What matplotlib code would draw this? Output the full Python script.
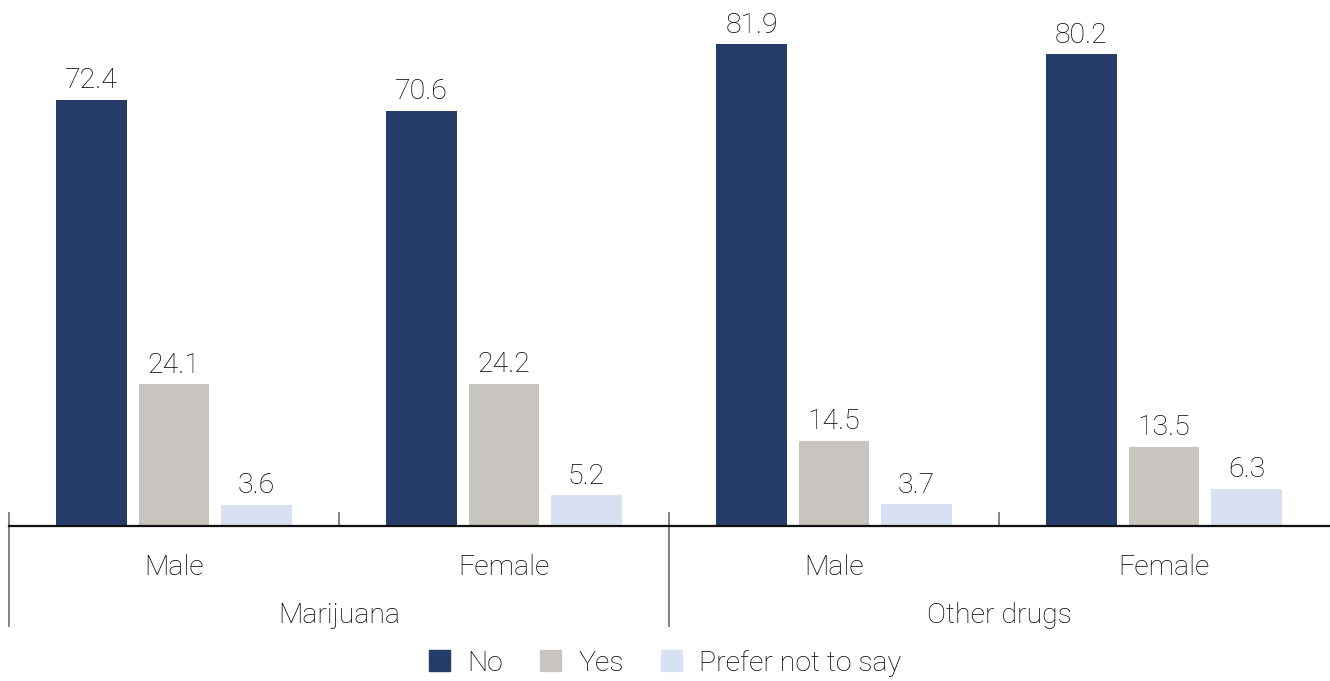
import matplotlib

matplotlib.use("Agg")

import matplotlib.pyplot as plt
from matplotlib.patches import Patch
from matplotlib.transforms import blended_transform_factory

plt.rcParams["font.family"] = ["Roboto", "DejaVu Sans"]

SUBGROUPS = ["Male", "Female", "Male", "Female"]
GROUPS = ["Marijuana", "Other drugs"]
SERIES = ["No", "Yes", "Prefer not to say"]
NO_VALUES = [72.4, 70.6, 81.9, 80.2]
YES_VALUES = [24.1, 24.2, 14.5, 13.5]
PNTS_VALUES = [3.6, 5.2, 3.7, 6.3]
COLORS = ["#263D6A", "#C8C4C0", "#D8E1F1"]

TEXT_KW = dict(fontsize=20.5, fontweight="light", color="#000000")

W, H = 1330, 681
fig = plt.figure(figsize=(W / 100, H / 100), dpi=100)
ax = fig.add_axes([9 / W, 155 / H, 1320 / W, 526 / H])

offsets = [-0.25, 0.0, 0.25]
width = 0.215
for values, off, color in zip([NO_VALUES, YES_VALUES, PNTS_VALUES], offsets, COLORS):
    xs = [i + 0.5 + off for i in range(len(values))]
    ax.bar(xs, values, width=width, color=color)
    for x, v in zip(xs, values):
        ax.annotate(f"{v:.1f}", (x, v), xytext=(0, 4), textcoords="offset points",
                    ha="center", va="bottom", **TEXT_KW)

ax.set_xlim(0, 4)
ax.set_ylim(0, 89.4)
for side in ("top", "right", "left"):
    ax.spines[side].set_visible(False)
ax.spines["bottom"].set_linewidth(1.6)
ax.spines["bottom"].set_color("#111111")
ax.set_xticks([])
ax.set_yticks([])

trans = blended_transform_factory(ax.transData, ax.transAxes)
for x in [0, 2]:
    ax.plot([x, x], [0.025, -0.19], transform=trans, color="#777777", lw=1.3, clip_on=False)
for x in [1, 3]:
    ax.plot([x, x], [0.025, 0.0], transform=trans, color="#777777", lw=1.3, clip_on=False)

for i, name in enumerate(SUBGROUPS):
    ax.text(i + 0.5, -0.078, name, transform=trans, ha="center", va="center", **TEXT_KW)
for j, name in enumerate(GROUPS):
    ax.text(2 * j + 1, -0.17, name, transform=trans, ha="center", va="center", **TEXT_KW)

handles = [Patch(color=c) for c in COLORS]
fig.legend(handles, SERIES, loc="center", bbox_to_anchor=(0.5, 0.026), ncol=3,
           frameon=False, handlelength=0.75, handleheight=0.75,
           handletextpad=0.6, columnspacing=1.3, labelcolor="#000000",
           prop={"weight": "light", "size": 20.5})

fig.savefig("out.png", dpi=100)
